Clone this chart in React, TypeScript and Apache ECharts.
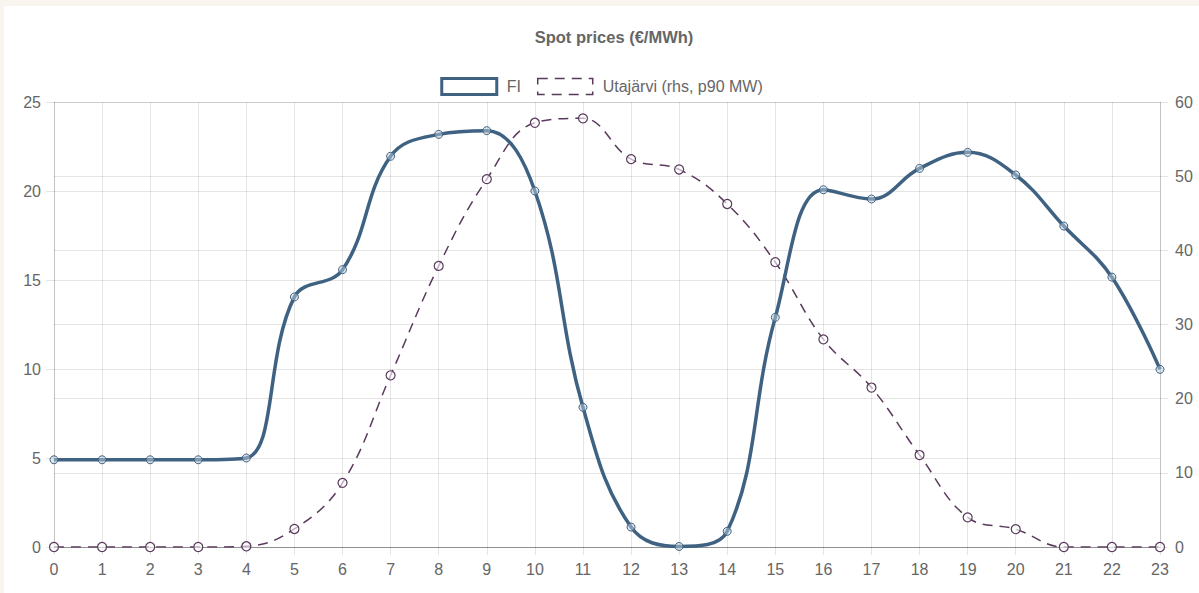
import React, { useEffect, useRef } from "react";
import * as echarts from "echarts";

const hours = ["0","1","2","3","4","5","6","7","8","9","10","11","12","13","14","15","16","17","18","19","20","21","22","23"];
const fiPrices = [4.9, 4.9, 4.9, 4.9, 5.0, 14.05, 15.58, 21.95, 23.18, 23.39, 20.0, 7.85, 1.12, 0.03, 0.88, 12.9, 20.07, 19.55, 21.27, 22.17, 20.9, 18.03, 15.16, 9.98];
const utajarvi = [0, 0, 0, 0, 0.1, 2.43, 8.65, 23.15, 37.9, 49.6, 57.2, 57.8, 52.3, 50.9, 46.25, 38.4, 28.0, 21.5, 12.4, 4.0, 2.4, 0, 0, 0];
const leftTicks = { min: 0, max: 25, interval: 5 };
const rightTicks = { min: 0, max: 60, interval: 10 };

const FI_NAME = "FI";
const UTA_NAME = "Utajärvi (rhs, p90 MW)";
const FI_COLOR = "#3f6282";
const UTA_COLOR = "#5a3a5c";
const GRID = "rgba(0,0,0,0.1)";
const FONT = "'Liberation Sans', Arial, Helvetica, sans-serif";

export default function App() {
  const ref = useRef<HTMLDivElement>(null);
  useEffect(() => {
    if (!ref.current) return;
    const chart = echarts.init(ref.current, null, { renderer: "svg" });
    const axisLabel = { color: "#666", fontSize: 16, fontFamily: FONT };
    chart.setOption({
      animation: false,
      backgroundColor: "#ffffff",
      textStyle: { fontFamily: FONT },
      title: {
        text: "Spot prices (€/MWh)",
        left: 605,
        textAlign: "center",
        top: 17,
        textStyle: { fontSize: 16.5, fontWeight: "bold", color: "#666", fontFamily: FONT },
      },
      legend: {
        top: 66,
        left: "center",
        icon: "rect",
        itemWidth: 55,
        itemHeight: 16,
        itemGap: 16,
        textStyle: { color: "#666", fontSize: 16, fontFamily: FONT, padding: [0, 0, 0, 5] },
        data: [
          { name: FI_NAME, itemStyle: { color: "#fff", borderColor: FI_COLOR, borderWidth: 3 } },
          { name: UTA_NAME, itemStyle: { color: "#fff", borderColor: UTA_COLOR, borderWidth: 1.5, borderType: [10, 7] } },
        ],
      },
      grid: { left: 50, right: 39, top: 96, bottom: 46, containLabel: false },
      xAxis: {
        type: "category",
        data: hours,
        boundaryGap: false,
        axisLine: { show: true, lineStyle: { color: "rgba(0,0,0,0.3)" } },
        axisTick: { show: true, length: 8, lineStyle: { color: GRID } },
        axisLabel: { ...axisLabel, margin: 14 },
        splitLine: { show: true, lineStyle: { color: GRID } },
      },
      yAxis: [
        {
          type: "value",
          position: "left",
          ...leftTicks,
          axisLine: { show: true, lineStyle: { color: "rgba(0,0,0,0.15)" } },
          axisTick: { show: true, length: 8, lineStyle: { color: GRID } },
          axisLabel: { ...axisLabel, margin: 13 },
          splitLine: { show: true, lineStyle: { color: GRID } },
        },
        {
          type: "value",
          position: "right",
          ...rightTicks,
          axisLine: { show: true, lineStyle: { color: "rgba(0,0,0,0.15)" } },
          axisTick: { show: true, length: 8, lineStyle: { color: GRID } },
          axisLabel: { ...axisLabel, margin: 15 },
          splitLine: { show: true, lineStyle: { color: GRID } },
        },
      ],
      series: [
        {
          name: FI_NAME,
          type: "line",
          yAxisIndex: 0,
          data: fiPrices,
          smooth: 0.4,
          symbol: "circle",
          symbolSize: 8,
          z: 3,
          lineStyle: { color: FI_COLOR, width: 3.5 },
          itemStyle: { color: "rgba(190,205,220,0.5)", borderColor: FI_COLOR, borderWidth: 1 },
        },
        {
          name: UTA_NAME,
          type: "line",
          yAxisIndex: 1,
          data: utajarvi,
          smooth: 0.4,
          symbol: "circle",
          symbolSize: 9,
          z: 2,
          lineStyle: { color: UTA_COLOR, width: 1.5, type: [10, 7] },
          itemStyle: { color: "rgba(255,255,255,0.6)", borderColor: UTA_COLOR, borderWidth: 1.2 },
        },
      ],
    });
    return () => chart.dispose();
  }, []);
  return (
    <div style={{ position: "fixed", left: 0, top: 0, right: 0, bottom: 0, background: "#f8f5ee" }}>
      <div style={{ position: "absolute", left: 4, top: 6, right: 0, bottom: 0, background: "#fff" }}>
        <div ref={ref} style={{ width: 1195, height: 587 }} />
      </div>
    </div>
  );
}
